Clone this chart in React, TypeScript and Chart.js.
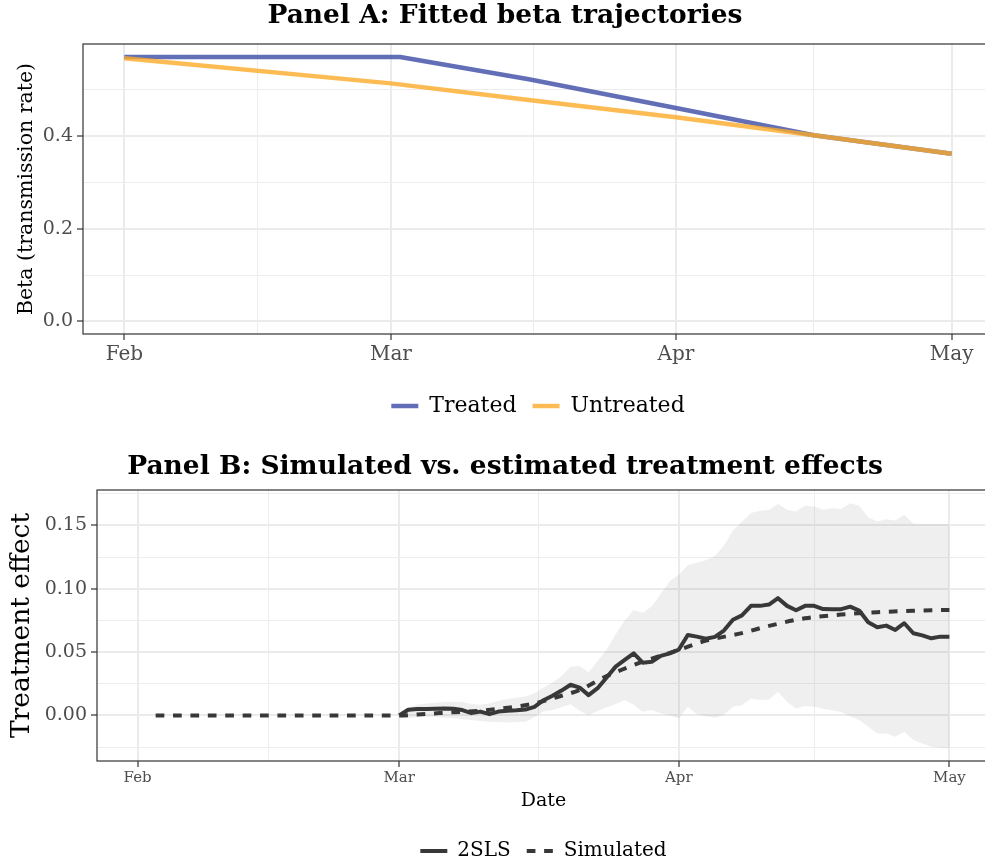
import React, { useEffect, useRef } from 'react';
import { Chart, registerables } from 'chart.js';

Chart.register(...registerables);

const SERIF = "'DejaVu Serif', 'Liberation Serif', serif";

// x axis: days since 1 February 2020
const monthDays = [0, 29, 60, 90];
const monthLabels = ['Feb', 'Mar', 'Apr', 'May'];
const midMonthDays = [14.5, 44.5, 75];

// Panel A: fitted transmission rates
const treatedDays = [0, 30, 44, 60, 75, 90];
const treatedBeta = [0.571, 0.571, 0.523, 0.461, 0.402, 0.362];
const untreatedDays = [0, 29, 44, 60, 75, 90];
const untreatedBeta = [0.568, 0.514, 0.478, 0.441, 0.402, 0.362];
const betaMajorTicks = [0, 0.2, 0.4];
const betaMinorTicks = [0.1, 0.3, 0.5];

// Panel B: daily estimates from 1 March (day 29) to 1 May (day 90)
const effectStartDay = 29;
const estimate2SLS = [
  0.0, 0.0045, 0.005, 0.005, 0.0053, 0.0055, 0.0052, 0.0042, 0.0018, 0.003,
  0.001, 0.003, 0.0036, 0.004, 0.0046, 0.0068, 0.012, 0.0155, 0.0196, 0.0242,
  0.022, 0.016, 0.0215, 0.03, 0.0385, 0.0438, 0.049, 0.0416, 0.0424, 0.047,
  0.049, 0.052, 0.0635, 0.0622, 0.0605, 0.062, 0.067, 0.0755, 0.079, 0.0865,
  0.0865, 0.0875, 0.0926, 0.0865, 0.083, 0.0865, 0.0865, 0.084, 0.0839, 0.0839,
  0.0859, 0.0828, 0.0735, 0.0696, 0.0709, 0.0675, 0.0728, 0.0649, 0.0632, 0.0609,
  0.0622, 0.0622,
];
const ciUpper = [
  0.0015, 0.006, 0.0085, 0.0095, 0.01, 0.0105, 0.0108, 0.0105, 0.009, 0.0085,
  0.0095, 0.0115, 0.013, 0.014, 0.015, 0.0175, 0.022, 0.026, 0.031, 0.0385,
  0.039, 0.034, 0.043, 0.052, 0.064, 0.075, 0.0833, 0.081, 0.086, 0.096,
  0.106, 0.111, 0.1185, 0.1205, 0.1225, 0.1258, 0.134, 0.146, 0.153, 0.1598,
  0.1616, 0.1625, 0.1669, 0.1624, 0.1611, 0.1655, 0.165, 0.1625, 0.1636, 0.163,
  0.1675, 0.1655, 0.1565, 0.1532, 0.155, 0.154, 0.1585, 0.1513, 0.1511, 0.1511,
  0.1511, 0.1511,
];
const ciLower = [
  -0.001, -0.0022, -0.0015, -0.0011, -0.0013, -0.0018, -0.0022, -0.003, -0.0037, -0.0045,
  -0.005, -0.0052, -0.0055, -0.0052, -0.005, -0.0015, 0.003, 0.0042, 0.0065, 0.0089,
  0.0036, 0.0002, 0.0035, 0.0063, 0.009, 0.0121, 0.0085, 0.0028, 0.0042, 0.0015,
  0.0, -0.0024, 0.0068, 0.001, -0.0006, -0.0019, 0.0005, 0.0068, 0.0081, 0.0134,
  0.0121, 0.0125, 0.0187, 0.0108, 0.0055, 0.0074, 0.0068, 0.0052, 0.004, 0.0026,
  -0.0006, -0.0037, -0.009, -0.0142, -0.0142, -0.0169, -0.013, -0.0195, -0.0222, -0.0248,
  -0.0255, -0.0261,
];
const simulatedDays = [2, 29, 32, 35, 38, 41, 44, 47, 49, 52, 56, 60, 63, 67, 70, 74, 78, 82, 86, 90];
const simulatedEffect = [
  0, 0, 0.0012, 0.0025, 0.0037, 0.006, 0.0095, 0.0155, 0.02, 0.031,
  0.0424, 0.0517, 0.059, 0.065, 0.0707, 0.0767, 0.0796, 0.0815, 0.0826, 0.0833,
];
const effectMajorTicks = [0, 0.05, 0.1, 0.15];
const effectMinorTicks = [-0.025, 0.025, 0.075, 0.125, 0.175];

const GRID_MAJOR = '#EBEBEB';
const GRID_MINOR = '#EDEDED';
const AXIS_DARK = '#333333';
const TICK_TEXT = '#4D4D4D';

const toPoints = (xs: number[], ys: number[]) => ys.map((y, i) => ({ x: xs[i], y }));
const dailyPoints = (start: number, ys: number[]) => ys.map((y, i) => ({ x: start + i, y }));

const isIn = (list: number[], v: number) => list.some((m) => Math.abs(m - v) < 1e-9);

function gridStyle(majors: number[]) {
  return {
    color: (c: any) => (c.tick && isIn(majors, c.tick.value) ? GRID_MAJOR : GRID_MINOR),
    lineWidth: (c: any) => (c.tick && isIn(majors, c.tick.value) ? 2 : 1),
    tickColor: (c: any) => (c.tick && isIn(majors, c.tick.value) ? AXIS_DARK : 'rgba(0,0,0,0)'),
    tickWidth: 1.2,
    tickLength: 6,
  };
}

function monthAxis(fontSize: number, tickPadding: number, extra: any) {
  const all = [...monthDays, ...midMonthDays].sort((a, b) => a - b);
  return {
    type: 'linear',
    min: -4.5,
    max: 94.5,
    afterBuildTicks: (scale: any) => {
      scale.ticks = all.map((value) => ({ value }));
    },
    ticks: {
      autoSkip: false,
      maxRotation: 0,
      padding: tickPadding,
      color: TICK_TEXT,
      font: { family: SERIF, size: fontSize },
      callback: (v: number) => {
        const i = monthDays.indexOf(v);
        return i >= 0 ? monthLabels[i] : '';
      },
    },
    grid: gridStyle(monthDays),
    border: { display: false },
    ...extra,
  };
}

function valueAxis(min: number, max: number, majors: number[], minors: number[], digits: number, extra: any) {
  const all = [...majors, ...minors].sort((a, b) => a - b);
  return {
    type: 'linear',
    min,
    max,
    afterBuildTicks: (scale: any) => {
      scale.ticks = all.map((value) => ({ value }));
    },
    ticks: {
      autoSkip: false,
      padding: 4,
      color: TICK_TEXT,
      font: { family: SERIF, size: 19 },
      callback: (v: number) => (isIn(majors, v) ? v.toFixed(digits) : ''),
    },
    grid: gridStyle(majors),
    border: { display: false },
    ...extra,
  };
}

// invisible right-hand spacer so the panel runs past the right edge
function rightSpacer(width: number) {
  return {
    type: 'linear',
    position: 'right',
    display: true,
    grid: { display: false },
    ticks: { display: false },
    border: { display: false },
    afterFit: (s: any) => {
      s.width = width;
    },
  };
}

// legend keys drawn as short line segments carrying each dataset's stroke and dash
function lineKeys(chart: any) {
  const base = Chart.defaults.plugins.legend.labels.generateLabels(chart);
  return base.map((item: any) => {
    const ds = chart.data.datasets[item.datasetIndex];
    return {
      ...item,
      pointStyle: 'line',
      strokeStyle: ds.borderColor,
      fillStyle: ds.borderColor,
      lineWidth: ds.borderWidth,
      lineDash: ds.borderDash || [],
      lineCap: 'butt',
    };
  });
}

const panelBorder = {
  id: 'panelBorder',
  afterDatasetsDraw(chart: any) {
    const { ctx, chartArea: a } = chart;
    ctx.save();
    ctx.strokeStyle = AXIS_DARK;
    ctx.lineWidth = 1.2;
    ctx.strokeRect(a.left, a.top, a.right - a.left, a.bottom - a.top);
    ctx.restore();
  },
};

export default function App() {
  const refA = useRef<HTMLCanvasElement>(null);
  const refB = useRef<HTMLCanvasElement>(null);

  useEffect(() => {
    const chartA = new Chart(refA.current as HTMLCanvasElement, {
      type: 'line',
      data: {
        datasets: [
          {
            label: 'Treated',
            data: toPoints(treatedDays, treatedBeta),
            borderColor: 'rgba(59,75,165,0.8)',
            backgroundColor: 'rgba(59,75,165,0.8)',
            borderWidth: 4.5,
            pointRadius: 0,
            borderJoinStyle: 'round',
            order: 2,
          },
          {
            label: 'Untreated',
            data: toPoints(untreatedDays, untreatedBeta),
            borderColor: 'rgba(253,170,40,0.8)',
            backgroundColor: 'rgba(253,170,40,0.8)',
            borderWidth: 4.5,
            pointRadius: 0,
            borderJoinStyle: 'round',
            order: 1,
          },
        ],
      },
      options: {
        animation: false,
        responsive: false,
        layout: { padding: { left: 0, right: 0, top: 0, bottom: 3 } },
        plugins: {
          title: {
            display: true,
            text: 'Panel A: Fitted beta trajectories',
            color: '#000',
            font: { family: SERIF, size: 26.5, weight: 'bold', lineHeight: 1.2 },
            padding: { top: 0.5, bottom: 11.7 },
          },
          legend: {
            position: 'bottom',
            fullSize: false,
            labels: {
              usePointStyle: true,
              pointStyle: 'line',
              pointStyleWidth: 27,
              color: '#000',
              font: { family: SERIF, size: 22 },
              padding: 16,
              generateLabels: lineKeys,
              sort: (a: any, b: any) => a.datasetIndex - b.datasetIndex,
            },
          },
          tooltip: { enabled: false },
        },
        scales: {
          x: monthAxis(20, 3, {
            afterFit: (s: any) => {
              s.height = 45;
            },
          }),
          y: valueAxis(-0.027, 0.599, betaMajorTicks, betaMinorTicks, 1, {
            title: {
              display: true,
              text: 'Beta (transmission rate)',
              color: '#000',
              font: { family: SERIF, size: 20.5, lineHeight: 1.2 },
              padding: { top: 14, bottom: 0 },
            },
            afterFit: (s: any) => {
              s.width = 83;
            },
          }),
          pad: rightSpacer(17),
        },
      } as any,
      plugins: [panelBorder],
    });

    const chartB = new Chart(refB.current as HTMLCanvasElement, {
      type: 'line',
      data: {
        datasets: [
          {
            label: '2SLS',
            data: dailyPoints(effectStartDay, estimate2SLS),
            borderColor: '#383838',
            backgroundColor: '#383838',
            borderWidth: 4,
            pointRadius: 0,
            borderJoinStyle: 'round',
            order: 1,
          },
          {
            label: 'Simulated',
            data: toPoints(simulatedDays, simulatedEffect),
            borderColor: '#383838',
            backgroundColor: '#383838',
            borderWidth: 4,
            borderDash: [8.7, 8.7],
            pointRadius: 0,
            cubicInterpolationMode: 'monotone',
            order: 1,
          },
          {
            label: 'lower',
            data: dailyPoints(effectStartDay, ciLower),
            borderColor: 'rgba(0,0,0,0)',
            borderWidth: 0,
            pointRadius: 0,
            fill: false,
            order: 3,
          },
          {
            label: 'upper',
            data: dailyPoints(effectStartDay, ciUpper),
            borderColor: 'rgba(0,0,0,0)',
            backgroundColor: 'rgba(128,128,128,0.13)',
            borderWidth: 0,
            pointRadius: 0,
            fill: '-1',
            order: 3,
          },
        ],
      },
      options: {
        animation: false,
        responsive: false,
        layout: { padding: { left: 0, right: 0, top: 0, bottom: 4 } },
        plugins: {
          title: {
            display: true,
            text: 'Panel B: Simulated vs. estimated treatment effects',
            color: '#000',
            font: { family: SERIF, size: 26.5, weight: 'bold', lineHeight: 1.2 },
            padding: { top: 21.6, bottom: 6.6 },
          },
          legend: {
            position: 'bottom',
            fullSize: false,
            labels: {
              usePointStyle: true,
              pointStyle: 'line',
              pointStyleWidth: 27,
              color: '#000',
              font: { family: SERIF, size: 20 },
              padding: 16,
              generateLabels: lineKeys,
              filter: (item: any) => item.datasetIndex < 2,
            },
          },
          tooltip: { enabled: false },
        },
        scales: {
          x: monthAxis(15, 2, {
            title: {
              display: true,
              text: 'Date',
              color: '#000',
              font: { family: SERIF, size: 19, lineHeight: 1.2 },
              padding: { top: 0, bottom: 12.9 },
            },
            afterFit: (s: any) => {
              s.height = 64;
            },
          }),
          y: valueAxis(-0.036, 0.178, effectMajorTicks, effectMinorTicks, 2, {
            title: {
              display: true,
              text: 'Treatment effect',
              color: '#000',
              font: { family: SERIF, size: 26.5, lineHeight: 1.2 },
              padding: { top: 6, bottom: 0 },
            },
            afterFit: (s: any) => {
              s.width = 97;
            },
          }),
          pad: rightSpacer(20),
        },
      } as any,
      plugins: [panelBorder],
    });

    return () => {
      chartA.destroy();
      chartB.destroy();
    };
  }, []);

  return (
    <div
      style={{
        position: 'absolute',
        left: 0,
        top: 0,
        width: 985,
        height: 867,
        overflow: 'hidden',
        background: '#fff',
      }}
    >
      <canvas
        ref={refA}
        width={1010}
        height={430}
        style={{ position: 'absolute', left: 0, top: 0, width: 1010, height: 430 }}
      />
      <canvas
        ref={refB}
        width={1010}
        height={445}
        style={{ position: 'absolute', left: 0, top: 430, width: 1010, height: 445 }}
      />
    </div>
  );
}
